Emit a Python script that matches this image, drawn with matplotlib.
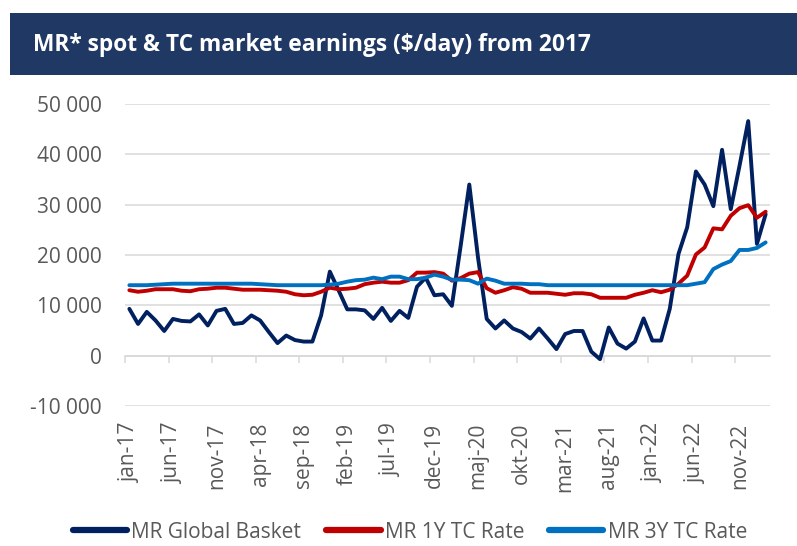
import matplotlib
matplotlib.use("Agg")
import matplotlib.pyplot as plt
from matplotlib.patches import Rectangle
import numpy as np

plt.rcParams['font.family'] = ['Open Sans', 'DejaVu Sans']

# Monthly data jan-17 .. feb-23
month_abbr = ["jan", "feb", "mar", "apr", "maj", "jun", "jul", "aug", "sep", "okt", "nov", "dec"]
months = [f"{month_abbr[m]}-{17 + y}" for y in range(7) for m in range(12)][:74]

global_basket = [9300, 6300, 8700, 7000, 4900, 7300, 6900, 6800, 8200, 6000,
                 8900, 9300, 6300, 6500, 8000, 7000, 4700, 2500, 4000, 3100,
                 2800, 2800, 8000, 16700, 13000, 9200, 9200, 9000, 7300, 9500,
                 6900, 8900, 7500, 13700, 15500, 12000, 12200, 9900, 21700, 34000,
                 19500, 7300, 5400, 7000, 5400, 4700, 3400, 5400, 3400, 1300,
                 4300, 4900, 4900, 800, -700, 5600, 2400, 1400, 2800, 7400,
                 3000, 3000, 9300, 20200, 25500, 36600, 34000, 29700, 40900, 29100,
                 37700, 46600, 22200, 28100]

tc_1y = [13000, 12700, 12900, 13200, 13200, 13200, 12900, 12800, 13200, 13300,
         13500, 13500, 13300, 13100, 13100, 13100, 13000, 12900, 12700, 12200,
         12000, 12100, 12700, 13500, 13200, 13300, 13500, 14200, 14500, 14700,
         14500, 14500, 15000, 16500, 16500, 16600, 16300, 14900, 15400, 16300,
         16600, 13400, 12500, 13000, 13600, 13300, 12500, 12500, 12500, 12300,
         12100, 12400, 12400, 12200, 11500, 11500, 11500, 11500, 12100, 12500,
         13000, 12600, 13100, 14300, 15900, 20100, 21500, 25300, 25100, 27800,
         29300, 29900, 27400, 28600]

tc_3y = [14000, 14000, 14000, 14100, 14200, 14300, 14300, 14300, 14300, 14300,
         14300, 14300, 14300, 14300, 14300, 14200, 14100, 14000, 14000, 14000,
         14000, 14000, 14000, 14100, 14300, 14700, 15000, 15100, 15500, 15200,
         15700, 15700, 15200, 15200, 15500, 16100, 15700, 15100, 15100, 15000,
         14300, 15300, 14900, 14300, 14300, 14300, 14200, 14200, 14000, 14000,
         14000, 14000, 14000, 14000, 14000, 14000, 14000, 14000, 14000, 14000,
         14000, 14000, 14000, 14000, 14000, 14300, 14600, 17200, 18100, 18800,
         21000, 21000, 21400, 22500]

y_ticks = [-10000, 0, 10000, 20000, 30000, 40000, 50000]
series_names = ["MR Global Basket", "MR 1Y TC Rate", "MR 3Y TC Rate"]
colors = ["#002060", "#C00000", "#0070C0"]
title = "MR* spot & TC market earnings ($/day) from 2017"

grid_c = "#D9D9D9"
text_c = "#595959"

fig = plt.figure(figsize=(7.97, 5.46), dpi=100)

# title bar
fig.patches.append(Rectangle((9.5 / 797, 1 - 75 / 546), 1 - 9.5 / 797, 62 / 546,
                             transform=fig.transFigure, facecolor="#203864",
                             edgecolor="none", zorder=0))
fig.text(33 / 797, 1 - 45 / 546, title, color="white", fontsize=16.4,
         fontweight="bold", va="center", ha="left")

ax = fig.add_axes([125 / 797, 1 - 406 / 546, 645 / 797, 302 / 546])
n = len(months)
x = np.arange(n) + 0.5
lines = []
for vals, c, name in zip([global_basket, tc_1y, tc_3y], colors, series_names):
    ln, = ax.plot(x, vals, color=c, lw=2.8, label=name, solid_joinstyle="round",
                  solid_capstyle="round", zorder=3)
    lines.append(ln)
lines[1].set_zorder(4)
lines[2].set_zorder(5)

ax.set_xlim(0, n)
ax.set_ylim(-10000, 50000)
ax.set_yticks(y_ticks)
ax.set_yticklabels([f"{v:,}".replace(",", " ") for v in y_ticks])
ax.yaxis.grid(True, color=grid_c, lw=1.1)
ax.set_axisbelow(True)
ax.tick_params(axis="y", length=0, pad=16.5, labelsize=15, labelcolor=text_c)
for s in ["left", "right", "top"]:
    ax.spines[s].set_visible(False)
ax.spines["bottom"].set_position(("data", 0))
ax.spines["bottom"].set_color(grid_c)
ax.spines["bottom"].set_linewidth(1.1)
ax.set_xticks(np.arange(0, n - 1, 5))
ax.set_xticklabels([])
ax.tick_params(axis="x", length=5, width=1.1, color=grid_c, direction="out")

sec = ax.secondary_xaxis(0.0)
sec.set_xticks(x[::5])
sec.set_xticklabels(months[::5], rotation=90, fontsize=15, color=text_c)
sec.tick_params(length=0, pad=12)
sec.spines["bottom"].set_visible(False)

fig.legend(handles=lines, labels=series_names, loc="center",
           bbox_to_anchor=(410 / 797, 1 - 532 / 546), ncol=3, frameon=False,
           fontsize=15, handlelength=2.6, handletextpad=0.2, columnspacing=1.2,
           labelcolor=text_c)
for h in fig.legends[0].legend_handles:
    h.set_linewidth(4.5)

fig.savefig("out.png", dpi=100)
